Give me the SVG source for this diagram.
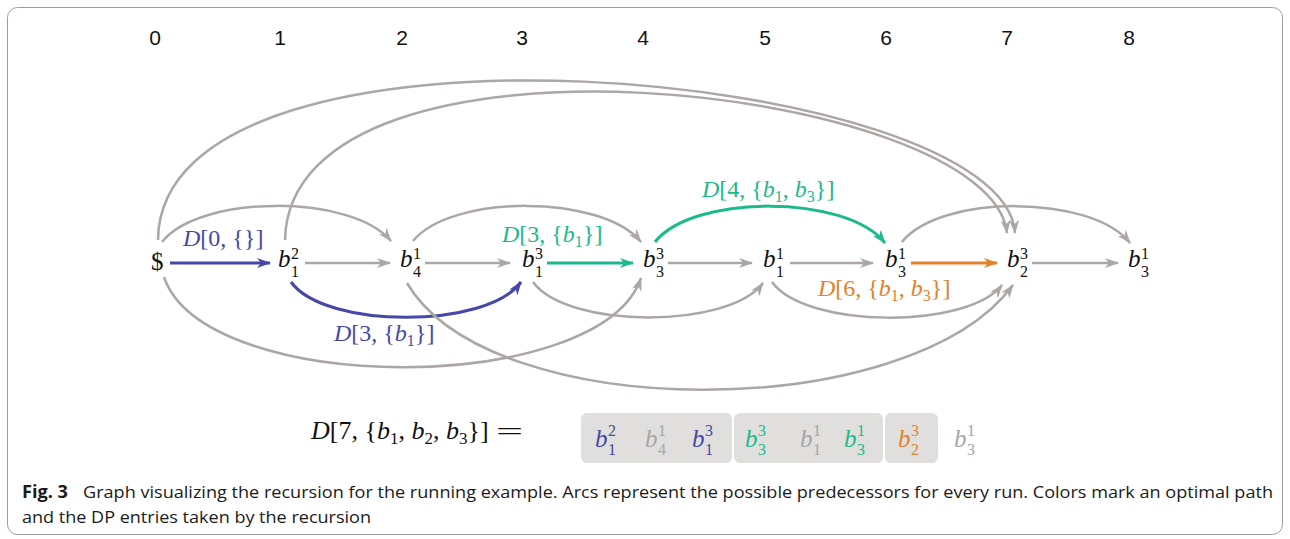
<svg xmlns="http://www.w3.org/2000/svg" width="1290" height="539" viewBox="0 0 1290 539">
<style>
.col{font-family:"Liberation Sans",Arial,sans-serif;font-size:21px;fill:#111;text-anchor:middle}
.m{font-family:"Liberation Serif","Times New Roman",serif;fill:#111}
.b{font-size:25px;font-style:italic}
.sp{font-size:16px}
.it{font-style:italic}
.lbl{font-family:"Liberation Serif","Times New Roman",serif;font-size:24px}
.blue{fill:#4548a8}.teal{fill:#1bb98b}.orange{fill:#e2822a}.lg{fill:#a6a6a6}
.e{fill:none;stroke:#aca6a5;stroke-width:2.5}
.eb{fill:none;stroke:#4548a8;stroke-width:3}
.et{fill:none;stroke:#1bb98b;stroke-width:3}
.eo{fill:none;stroke:#e2822a;stroke-width:3}
.cap{font-family:"Open Sans","Noto Sans","Liberation Sans",sans-serif;font-size:17px;fill:#1a1a1a}
.box{fill:#e0dfdd}
</style>
<defs>
<marker id="ag" viewBox="0 0 14 10" refX="13" refY="5" markerWidth="14" markerHeight="10" markerUnits="userSpaceOnUse" orient="auto"><path d="M0,0 L14,5 L0,10 L4,5 z" fill="#aca6a5"/></marker>
<marker id="ab" viewBox="0 0 14 10" refX="13" refY="5" markerWidth="14" markerHeight="10" markerUnits="userSpaceOnUse" orient="auto"><path d="M0,0 L14,5 L0,10 L4,5 z" fill="#4548a8"/></marker>
<marker id="at" viewBox="0 0 14 10" refX="13" refY="5" markerWidth="14" markerHeight="10" markerUnits="userSpaceOnUse" orient="auto"><path d="M0,0 L14,5 L0,10 L4,5 z" fill="#1bb98b"/></marker>
<marker id="ao" viewBox="0 0 14 10" refX="13" refY="5" markerWidth="14" markerHeight="10" markerUnits="userSpaceOnUse" orient="auto"><path d="M0,0 L14,5 L0,10 L4,5 z" fill="#e2822a"/></marker>
</defs>
<rect x="7.5" y="7.5" width="1275" height="527" rx="10" fill="#fff" stroke="#9c9c9c" stroke-width="1"/>
<g id="columns">
<text class="col" x="155" y="45">0</text>
<text class="col" x="280" y="45">1</text>
<text class="col" x="402" y="45">2</text>
<text class="col" x="522" y="45">3</text>
<text class="col" x="643" y="45">4</text>
<text class="col" x="765" y="45">5</text>
<text class="col" x="886" y="45">6</text>
<text class="col" x="1007" y="45">7</text>
<text class="col" x="1129" y="45">8</text>
</g>
<g id="connectors">
<path class="eb" d="M170,263 L270,263" marker-end="url(#ab)"/>
<path class="e" d="M305,263 L390,263" marker-end="url(#ag)"/>
<path class="e" d="M425,263 L510,263" marker-end="url(#ag)"/>
<path class="et" d="M547,263 L633,263" marker-end="url(#at)"/>
<path class="e" d="M668,263 L752,263" marker-end="url(#ag)"/>
<path class="e" d="M790,263 L873,263" marker-end="url(#ag)"/>
<path class="eo" d="M911,263 L997,263" marker-end="url(#ao)"/>
<path class="e" d="M1032,263 L1118,263" marker-end="url(#ag)"/>
<path class="e" d="M162,242 C200,194 352,194 391,241" marker-end="url(#ag)"/>
<path class="e" d="M413,241 C451,194 602,194 641,242" marker-end="url(#ag)"/>
<path class="et" d="M655,242 C693,194 846,194 885,243" marker-end="url(#at)"/>
<path class="e" d="M902,242 C940,194 1091,194 1130,243" marker-end="url(#ag)"/>
<path class="e" d="M158,240 C160,-10 1005,70 1015,233" marker-end="url(#ag)"/>
<path class="e" d="M285,240 C290,5 992,85 1007,233" marker-end="url(#ag)"/>
<path class="e" d="M164,277 C205,397 600,397 641,278" marker-end="url(#ag)"/>
<path class="eb" d="M291,282 C325,329 487,329 521,282" marker-end="url(#ab)"/>
<path class="e" d="M407,283 C490,425 910,425 1013,285" marker-end="url(#ag)"/>
<path class="e" d="M533,282 C567,329 729,329 763,283" marker-end="url(#ag)"/>
<path class="e" d="M772,282 C806,329 968,329 1002,285" marker-end="url(#ag)"/>
</g>
<g id="edge-labels">
<text class="lbl blue" x="183" y="246"><tspan class="it">D</tspan>[0, {}]</text>
<text class="lbl teal" x="502" y="242"><tspan class="it">D</tspan>[3, {<tspan class="it">b</tspan><tspan font-size="16" dy="5">1</tspan><tspan dy="-5">}]</tspan></text>
<text class="lbl teal" x="702" y="197"><tspan class="it">D</tspan>[4, {<tspan class="it">b</tspan><tspan font-size="16" dy="5">1</tspan><tspan dy="-5">, </tspan><tspan class="it">b</tspan><tspan font-size="16" dy="5">3</tspan><tspan dy="-5">}]</tspan></text>
<text class="lbl orange" x="818" y="296"><tspan class="it">D</tspan>[6, {<tspan class="it">b</tspan><tspan font-size="16" dy="5">1</tspan><tspan dy="-5">, </tspan><tspan class="it">b</tspan><tspan font-size="16" dy="5">3</tspan><tspan dy="-5">}]</tspan></text>
<text class="lbl blue" x="334" y="341"><tspan class="it">D</tspan>[3, {<tspan class="it">b</tspan><tspan font-size="16" dy="5">1</tspan><tspan dy="-5">}]</tspan></text>
</g>
<g id="n0"><text class="m" x="151" y="270" font-size="25">$</text></g>
<g id="n1"><text class="m b" x="278" y="267">b</text><text class="m sp" x="291" y="259">2</text><text class="m sp" x="291" y="277">1</text></g>
<g id="n2"><text class="m b" x="400" y="267">b</text><text class="m sp" x="413" y="259">1</text><text class="m sp" x="413" y="277">4</text></g>
<g id="n3"><text class="m b" x="522" y="267">b</text><text class="m sp" x="535" y="259">3</text><text class="m sp" x="535" y="277">1</text></g>
<g id="n4"><text class="m b" x="643" y="267">b</text><text class="m sp" x="656" y="259">3</text><text class="m sp" x="656" y="277">3</text></g>
<g id="n5"><text class="m b" x="763" y="267">b</text><text class="m sp" x="776" y="259">1</text><text class="m sp" x="776" y="277">1</text></g>
<g id="n6"><text class="m b" x="885" y="267">b</text><text class="m sp" x="898" y="259">1</text><text class="m sp" x="898" y="277">3</text></g>
<g id="n7"><text class="m b" x="1007" y="267">b</text><text class="m sp" x="1020" y="259">3</text><text class="m sp" x="1020" y="277">2</text></g>
<g id="n8"><text class="m b" x="1128" y="267">b</text><text class="m sp" x="1141" y="259">1</text><text class="m sp" x="1141" y="277">3</text></g>
<g id="result">
<text class="m" x="311" y="439" font-size="26"><tspan class="it">D</tspan>[7, {<tspan class="it">b</tspan><tspan font-size="17" dy="5">1</tspan><tspan dy="-5">, </tspan><tspan class="it">b</tspan><tspan font-size="17" dy="5">2</tspan><tspan dy="-5">, </tspan><tspan class="it">b</tspan><tspan font-size="17" dy="5">3</tspan><tspan dy="-5">}]</tspan></text>
<text class="m" transform="translate(496,440) scale(1.85,1)" font-size="26">=</text>
<rect class="box" x="581" y="413" width="151" height="50" rx="6"/>
<rect class="box" x="734" y="413" width="149" height="50" rx="6"/>
<rect class="box" x="885" y="413" width="53" height="50" rx="6"/>
<g><text class="m b blue" x="595" y="447">b</text><text class="m sp blue" x="608" y="436">2</text><text class="m sp blue" x="608" y="455">1</text></g>
<g><text class="m b lg" x="645" y="447">b</text><text class="m sp lg" x="658" y="436">1</text><text class="m sp lg" x="658" y="455">4</text></g>
<g><text class="m b blue" x="692" y="447">b</text><text class="m sp blue" x="705" y="436">3</text><text class="m sp blue" x="705" y="455">1</text></g>
<g><text class="m b teal" x="745" y="447">b</text><text class="m sp teal" x="758" y="436">3</text><text class="m sp teal" x="758" y="455">3</text></g>
<g><text class="m b lg" x="800" y="447">b</text><text class="m sp lg" x="813" y="436">1</text><text class="m sp lg" x="813" y="455">1</text></g>
<g><text class="m b teal" x="844" y="447">b</text><text class="m sp teal" x="857" y="436">1</text><text class="m sp teal" x="857" y="455">3</text></g>
<g><text class="m b orange" x="898" y="447">b</text><text class="m sp orange" x="911" y="436">3</text><text class="m sp orange" x="911" y="455">2</text></g>
<g><text class="m b lg" x="954" y="447">b</text><text class="m sp lg" x="967" y="436">1</text><text class="m sp lg" x="967" y="455">3</text></g>
</g>
<g id="caption">
<text class="cap" x="22" y="498" font-weight="bold" textLength="46" lengthAdjust="spacingAndGlyphs">Fig. 3</text>
<text class="cap" x="83" y="498" textLength="1190" lengthAdjust="spacingAndGlyphs">Graph visualizing the recursion for the running example. Arcs represent the possible predecessors for every run. Colors mark an optimal path</text>
<text class="cap" x="22" y="523" textLength="349" lengthAdjust="spacingAndGlyphs">and the DP entries taken by the recursion</text>
</g>
</svg>
